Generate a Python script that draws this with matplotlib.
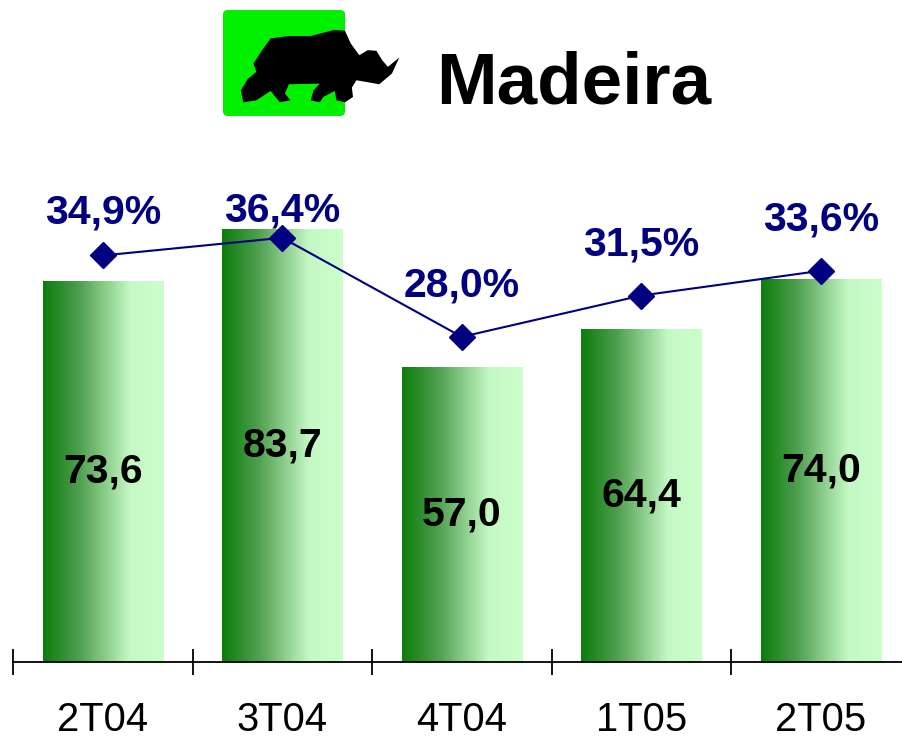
import numpy as np
import matplotlib
matplotlib.use("Agg")
import matplotlib.pyplot as plt
from matplotlib.colors import LinearSegmentedColormap
from matplotlib.patches import FancyBboxPatch, Polygon

plt.rcParams['font.family'] = ['Liberation Sans', 'DejaVu Sans']

# ---- data ----
categories = ["2T04", "3T04", "4T04", "1T05", "2T05"]
values = [73.6, 83.7, 57.0, 64.4, 74.0]
value_labels = ["73,6", "83,7", "57,0", "64,4", "74,0"]
margins = [34.9, 36.4, 28.0, 31.5, 33.6]
margin_labels = ["34,9%", "36,4%", "28,0%", "31,5%", "33,6%"]
title = "Madeira"

W, H = 903, 741
fig = plt.figure(figsize=(W / 100, H / 100), dpi=100)

def fx(px):
    return px / W

def fy(py):
    return 1 - py / H

ax_left, ax_right, ax_bottom, ax_top = 13, 910.5, 662, 145
ax = fig.add_axes([fx(ax_left), fy(ax_bottom), fx(ax_right - ax_left), (ax_bottom - ax_top) / H])
ax.set_xlim(-0.5, len(categories) - 0.5)
ax.set_ylim(0, 100)

cmap = LinearSegmentedColormap.from_list(
    "grn", [(0.0, "#0c7c0c"), (0.3, "#4f9f4f"), (0.72, "#c4f8c4"), (1.0, "#ccffcc")])
grad = np.linspace(0, 1, 256).reshape(1, -1)
bar_w = 0.67
bars = ax.bar(range(len(values)), values, width=bar_w, color="none", edgecolor="none")
for b in bars:
    x0, y0 = b.get_x(), b.get_y()
    im = ax.imshow(grad, cmap=cmap, aspect="auto", extent=[x0, x0 + b.get_width(), y0, y0 + b.get_height()],
                   zorder=1, interpolation="bilinear")
    im.set_clip_path(b)
ax.set_xlim(-0.5, len(categories) - 0.5)
ax.set_ylim(0, 100)

for i, (v, lab) in enumerate(zip(values, value_labels)):
    ax.text(i, v / 2, lab, ha="center", va="center", fontsize=29.5, fontweight="bold", color="black", zorder=5)

for s in ["top", "right", "left"]:
    ax.spines[s].set_visible(False)
ax.spines["bottom"].set_linewidth(1.3)
ax.set_yticks([])
ax.set_xticks(np.arange(-0.5, len(categories), 1.0))
ax.set_xticklabels([])
ax.tick_params(axis="x", which="major", direction="inout", length=19, width=1.3)
ax.set_xticks(range(len(categories)), minor=True)
ax.set_xticklabels(categories, minor=True, fontsize=28.8)
ax.tick_params(axis="x", which="minor", length=0, pad=28)

ax2 = ax.twinx()
ax2.set_ylim(0.42, 44.27)
ax2.set_xlim(-0.5, len(categories) - 0.5)
ax2.axis("off")
ax2.plot(range(len(margins)), margins, color="#000080", lw=1.5, marker="D", ms=13.5,
         markerfacecolor="#000080", markeredgecolor="#000080", zorder=3)
label_offsets = [31, 20, 37, 37, 37]
for i, (m, lab, off) in enumerate(zip(margins, margin_labels, label_offsets)):
    ax2.annotate(lab, (i, m), xytext=(0, off), textcoords="offset points", ha="center", va="center",
                 fontsize=29.5, fontweight="bold", color="#000080")

# ---- title logo ----
fig.patches.append(FancyBboxPatch((fx(223), fy(116)), fx(345 - 223), (116 - 10) / H,
                                  boxstyle="round,pad=0,rounding_size=0.006",
                                  transform=fig.transFigure, facecolor="#00f000", edgecolor="none"))
zoom_pts = [(470, 115), (500, 108), (540, 108), (580, 90), (600, 92), (610, 130), (625, 165), (640, 150),
            (655, 152), (665, 180), (675, 200), (695, 172), (682, 220), (660, 252), (620, 240),
            (612, 262), (614, 290), (600, 306), (585, 300), (582, 272), (562, 290), (556, 306),
            (540, 300), (545, 270), (556, 250), (502, 252), (495, 280), (505, 300), (486, 306),
            (470, 272), (445, 300), (422, 306), (418, 270), (430, 236), (445, 215), (440, 190),
            (455, 150)]
rhino = [(fx(222 + (xz - 385) / 1.748), fy(9 + (yz - 27) / 2.99)) for xz, yz in zoom_pts]
fig.patches.append(Polygon(rhino, closed=True, transform=fig.transFigure, facecolor="black", edgecolor="none"))
fig.text(fx(436), fy(85), title, ha="left", va="center", fontsize=52.4, fontweight="bold", color="black")

fig.savefig("out.png", dpi=100)
